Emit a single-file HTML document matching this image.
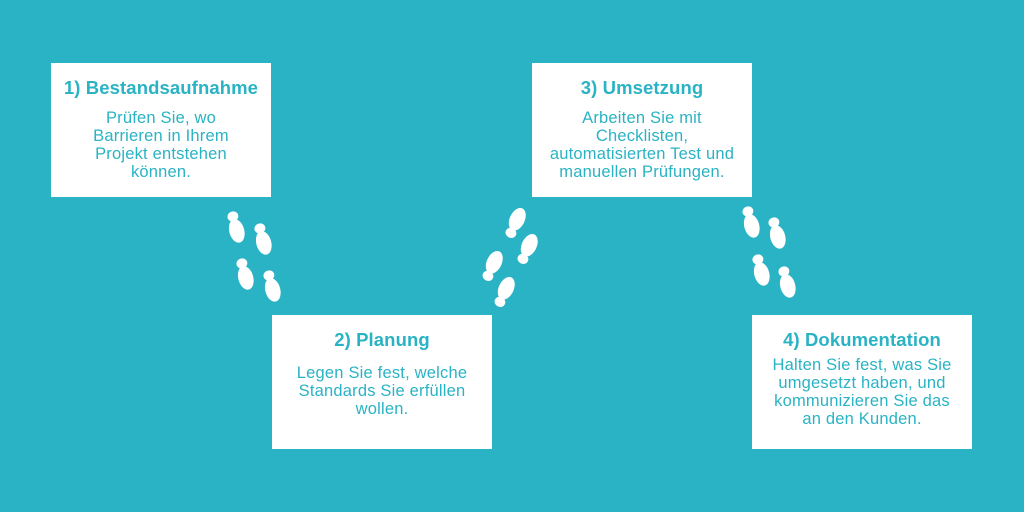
<!DOCTYPE html>
<html><head><meta charset="utf-8"><style>
body{margin:0;width:1024px;height:512px;background:#29b3c4;position:relative;overflow:hidden;font-family:"Liberation Sans",sans-serif}
.b{position:absolute;width:220px;height:134px;background:#fff;color:#2ab3c4;text-align:center}
.t{position:absolute;left:0;width:220px;font-weight:bold;font-size:18.5px;letter-spacing:0.1px;line-height:20px}
.p{position:absolute;left:0;width:220px;font-size:16.5px;letter-spacing:0.2px;line-height:18px}
svg{position:absolute;left:0;top:0}
</style></head><body>
<div class="b" style="left:51px;top:63px"><div class="t" style="top:15px">1) Bestandsaufnahme</div><div class="p" style="top:46px">Prüfen Sie, wo<br>Barrieren in Ihrem<br>Projekt entstehen<br>können.</div></div>
<div class="b" style="left:272px;top:315px"><div class="t" style="top:15px">2) Planung</div><div class="p" style="top:49px">Legen Sie fest, welche<br>Standards Sie erfüllen<br>wollen.</div></div>
<div class="b" style="left:532px;top:63px"><div class="t" style="top:15px">3) Umsetzung</div><div class="p" style="top:46px">Arbeiten Sie mit<br>Checklisten,<br>automatisierten Test und<br>manuellen Prüfungen.</div></div>
<div class="b" style="left:752px;top:315px"><div class="t" style="top:15px">4) Dokumentation</div><div class="p" style="top:41px">Halten Sie fest, was Sie<br>umgesetzt haben, und<br>kommunizieren Sie das<br>an den Kunden.</div></div>
<svg width="1024" height="512">
<defs><g id="f" fill="#fff"><ellipse cx="0" cy="-3" rx="7.5" ry="12"/><ellipse cx="0" cy="12" rx="5.5" ry="5"/></g></defs>
<use href="#f" transform="translate(236,228) rotate(165)"/>
<use href="#f" transform="translate(263,240) rotate(165)"/>
<use href="#f" transform="translate(245,275) rotate(165)"/>
<use href="#f" transform="translate(272,287) rotate(165)"/>
<use href="#f" transform="translate(516,222) rotate(25)"/>
<use href="#f" transform="translate(528,248) rotate(25)"/>
<use href="#f" transform="translate(493,265) rotate(25)"/>
<use href="#f" transform="translate(505,291) rotate(25)"/>
<use href="#f" transform="translate(751,223) rotate(165)"/>
<use href="#f" transform="translate(777,234) rotate(165)"/>
<use href="#f" transform="translate(761,271) rotate(165)"/>
<use href="#f" transform="translate(787,283) rotate(165)"/>
</svg>
</body></html>
